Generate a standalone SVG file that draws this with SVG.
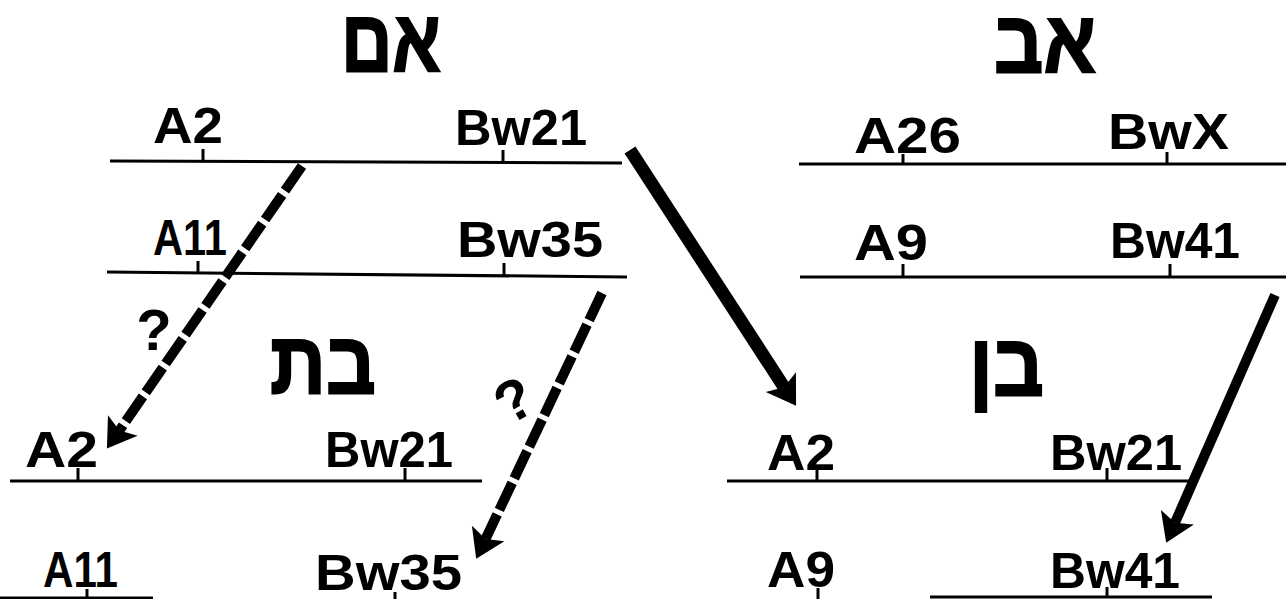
<svg xmlns="http://www.w3.org/2000/svg" width="1286" height="599" viewBox="0 0 1286 599">
<style>
.bg{fill:#fff}
.hl{stroke:#000;stroke-width:3;fill:none}
.tk{stroke:#000;stroke-width:3}
.lb{font-family:"Liberation Sans",Arial,sans-serif;font-weight:bold;font-size:50px;fill:#000}
.hd{font-family:"Liberation Sans","DejaVu Sans",sans-serif;font-weight:bold;font-size:88px;fill:#000;stroke:#000;stroke-width:2}
.q{font-family:"Liberation Sans",Arial,sans-serif;font-weight:bold;font-size:58px;fill:#000}
.dash{stroke:#000;stroke-width:10;fill:none;stroke-dasharray:30 5;marker-end:url(#ah)}
.solid{stroke:#000;fill:none;marker-end:url(#ah)}
</style>
<defs>
<marker id="ah" markerUnits="userSpaceOnUse" markerWidth="30" markerHeight="38" refX="6" refY="18" orient="auto" overflow="visible">
<path d="M0,0 L28,18 L0,36 L6,18 z" fill="#000"/>
</marker>
</defs>
<rect class="bg" x="0" y="0" width="1286" height="599"/>

<g id="head-mother"><text class="hd" x="341" y="71" textLength="100" lengthAdjust="spacingAndGlyphs">אם</text></g>
<g id="head-father"><text class="hd" x="994" y="72" textLength="102" lengthAdjust="spacingAndGlyphs">אב</text></g>
<g id="head-daughter"><text class="hd" x="270" y="393" textLength="106" lengthAdjust="spacingAndGlyphs">בת</text></g>
<g id="head-son"><text class="hd" x="969" y="395" textLength="75" lengthAdjust="spacingAndGlyphs">בן</text></g>

<g id="mother-hap1">
<line class="hl" x1="110" y1="161" x2="622" y2="163"/>
<line class="tk" x1="203" y1="149" x2="203" y2="162"/>
<line class="tk" x1="503" y1="150" x2="503" y2="163"/>
<text class="lb" x="153" y="143" textLength="70" lengthAdjust="spacingAndGlyphs">A2</text>
<text class="lb" x="455" y="145" textLength="132" lengthAdjust="spacingAndGlyphs">Bw21</text>
</g>
<g id="mother-hap2">
<line class="hl" x1="107" y1="272" x2="627" y2="277"/>
<line class="tk" x1="198" y1="261" x2="198" y2="273"/>
<line class="tk" x1="504" y1="263" x2="504" y2="276"/>
<text class="lb" x="153" y="255" textLength="74" lengthAdjust="spacingAndGlyphs">A11</text>
<text class="lb" x="457" y="257" textLength="146" lengthAdjust="spacingAndGlyphs">Bw35</text>
</g>

<g id="father-hap1">
<line class="hl" x1="799" y1="164" x2="1286" y2="164"/>
<line class="tk" x1="903" y1="154" x2="903" y2="164"/>
<line class="tk" x1="1167" y1="152" x2="1167" y2="164"/>
<text class="lb" x="854" y="153" textLength="107" lengthAdjust="spacingAndGlyphs">A26</text>
<text class="lb" x="1108" y="149" textLength="121" lengthAdjust="spacingAndGlyphs">BwX</text>
</g>
<g id="father-hap2">
<line class="hl" x1="800" y1="277" x2="1286" y2="277"/>
<line class="tk" x1="903" y1="264" x2="903" y2="277"/>
<line class="tk" x1="1170" y1="264" x2="1170" y2="277"/>
<text class="lb" x="854" y="260" textLength="74" lengthAdjust="spacingAndGlyphs">A9</text>
<text class="lb" x="1110" y="258" textLength="130" lengthAdjust="spacingAndGlyphs">Bw41</text>
</g>

<g id="daughter-hap1">
<line class="hl" x1="10" y1="481" x2="482" y2="481"/>
<line class="tk" x1="78" y1="468" x2="78" y2="481"/>
<line class="tk" x1="405" y1="468" x2="405" y2="481"/>
<text class="lb" x="25" y="467" textLength="73" lengthAdjust="spacingAndGlyphs">A2</text>
<text class="lb" x="325" y="467" textLength="128" lengthAdjust="spacingAndGlyphs">Bw21</text>
</g>
<g id="daughter-hap2">
<line class="hl" x1="0" y1="598" x2="153" y2="598"/>
<line class="tk" x1="87" y1="589" x2="87" y2="599"/>
<line class="tk" x1="395" y1="592" x2="395" y2="599"/>
<text class="lb" x="43" y="587" textLength="75" lengthAdjust="spacingAndGlyphs">A11</text>
<text class="lb" x="315" y="590" textLength="147" lengthAdjust="spacingAndGlyphs">Bw35</text>
</g>

<g id="son-hap1">
<line class="hl" x1="727" y1="481" x2="1195" y2="481"/>
<line class="tk" x1="817" y1="468" x2="817" y2="481"/>
<line class="tk" x1="1107" y1="468" x2="1107" y2="481"/>
<text class="lb" x="767" y="470" textLength="68" lengthAdjust="spacingAndGlyphs">A2</text>
<text class="lb" x="1050" y="470" textLength="132" lengthAdjust="spacingAndGlyphs">Bw21</text>
</g>
<g id="son-hap2">
<line class="hl" x1="930" y1="597" x2="1212" y2="597"/>
<line class="tk" x1="818" y1="588" x2="818" y2="599"/>
<line class="tk" x1="1107" y1="587" x2="1107" y2="597"/>
<text class="lb" x="767" y="587" textLength="68" lengthAdjust="spacingAndGlyphs">A9</text>
<text class="lb" x="1050" y="588" textLength="130" lengthAdjust="spacingAndGlyphs">Bw41</text>
</g>

<g id="connectors">
<line class="dash" x1="302" y1="166" x2="119.4" y2="430.5"/>
<line class="dash" x1="602" y1="293" x2="485.6" y2="538.9"/>
<line class="solid" stroke-width="13" x1="630" y1="150" x2="784.1" y2="387.2"/>
<line class="solid" stroke-width="10" x1="1275" y1="295" x2="1175" y2="522.7"/>
<text class="q" x="154" y="350" text-anchor="middle">?</text>
<text class="q" x="0" y="20" text-anchor="middle" transform="translate(514,400) rotate(-30)">?</text>
</g>
</svg>
